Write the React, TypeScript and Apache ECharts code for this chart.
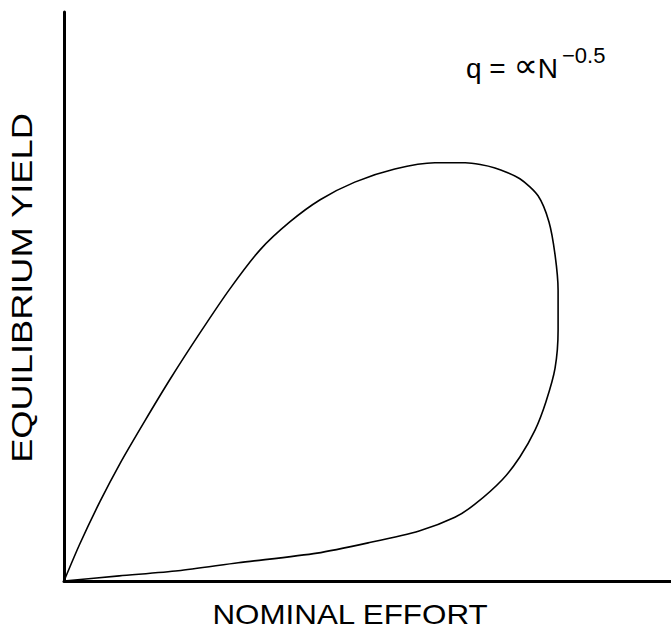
import React, { useEffect, useRef } from "react";
import * as echarts from "echarts";

// Nominal effort (x) and equilibrium yield (y), arbitrary units, traced around the loop
const effort = [0, 2.6, 5.9, 9.2, 13.3, 17.5, 22.4, 27.3, 32.3, 37.2, 42.2, 47.9, 54.5, 61.1, 66.1, 71.0, 75.1, 78.1, 79.9, 80.9, 81.4, 81.4, 80.9, 79.4, 77.6, 75.1, 72.2, 67.7, 64.4, 58.5, 50.1, 41.7, 28.7, 18.8, 9.1, 0];
const yieldVals = [0, 6.5, 13.9, 20.6, 28.1, 35.5, 43.6, 51.3, 58.2, 63.1, 67.0, 70.1, 72.4, 73.5, 73.5, 72.6, 70.7, 67.7, 63.1, 57.3, 51.1, 44.1, 37.4, 31.5, 26.5, 21.8, 17.8, 13.5, 11.2, 8.8, 6.7, 4.9, 3.2, 1.8, 0.9, 0];

const xTitle = "NOMINAL EFFORT";
const yTitle = "EQUILIBRIUM YIELD";
const formulaLeft = "q = ";
const formulaSymbol = "∝";
const formulaVar = "N";
const formulaSup = "−0.5";

export default function App() {
  const ref = useRef<HTMLDivElement>(null);
  useEffect(() => {
    if (!ref.current) return;
    const chart = echarts.init(ref.current, null, { renderer: "svg" });
    const data = effort.map((x, i) => [x, yieldVals[i]]);
    const font = "'Liberation Sans', Arial, sans-serif";
    chart.setOption({
      animation: false,
      backgroundColor: "#ffffff",
      grid: { left: 64, right: 0, top: 12, bottom: 50, containLabel: false },
      xAxis: {
        type: "value",
        min: 0,
        max: 100,
        axisLine: { show: true, onZero: false, lineStyle: { color: "#000", width: 3 } },
        axisTick: { show: false },
        axisLabel: { show: false },
        splitLine: { show: false },
      },
      yAxis: {
        type: "value",
        min: 0,
        max: 100,
        axisLine: { show: true, onZero: false, lineStyle: { color: "#000", width: 3 } },
        axisTick: { show: false },
        axisLabel: { show: false },
        splitLine: { show: false },
      },
      series: [
        {
          type: "line",
          data,
          smooth: 0.25,
          symbol: "none",
          lineStyle: { color: "#000", width: 1.6 },
        },
      ],
      graphic: [
        {
          type: "text",
          x: 350,
          y: 614,
          scaleX: 1.12,
          style: {
            text: xTitle,
            fontSize: 28,
            fontFamily: font,
            fill: "#000",
            align: "center",
            verticalAlign: "middle",
          },
        },
        {
          type: "text",
          x: 22,
          y: 288,
          rotation: Math.PI / 2,
          scaleX: 1.25,
          style: {
            text: yTitle,
            fontSize: 29,
            fontFamily: font,
            fill: "#000",
            align: "center",
            verticalAlign: "middle",
          },
        },
        {
          type: "text",
          x: 466,
          y: 82,
          style: {
            text:
              "{m|" + formulaLeft + "}{p|" + formulaSymbol + "}{m|" + formulaVar + "}{s|" + formulaSup + "}",
            align: "left",
            verticalAlign: "bottom",
            rich: {
              m: { fontSize: 28, fontFamily: font, fill: "#000", verticalAlign: "bottom", lineHeight: 32 },
              p: {
                fontSize: 34,
                fontFamily: "'DejaVu Sans', sans-serif",
                fill: "#000",
                verticalAlign: "bottom",
                lineHeight: 36,
                padding: [0, 0, 0, 0],
              },
              s: {
                fontSize: 22,
                fontFamily: font,
                fill: "#000",
                verticalAlign: "bottom",
                lineHeight: 24,
                padding: [0, 0, 16, 4],
              },
            },
          },
        },
      ],
    });
    return () => chart.dispose();
  }, []);
  return (
    <div
      ref={ref}
      style={{ position: "fixed", left: 0, top: 0, width: 671, height: 631, background: "#fff" }}
    />
  );
}
